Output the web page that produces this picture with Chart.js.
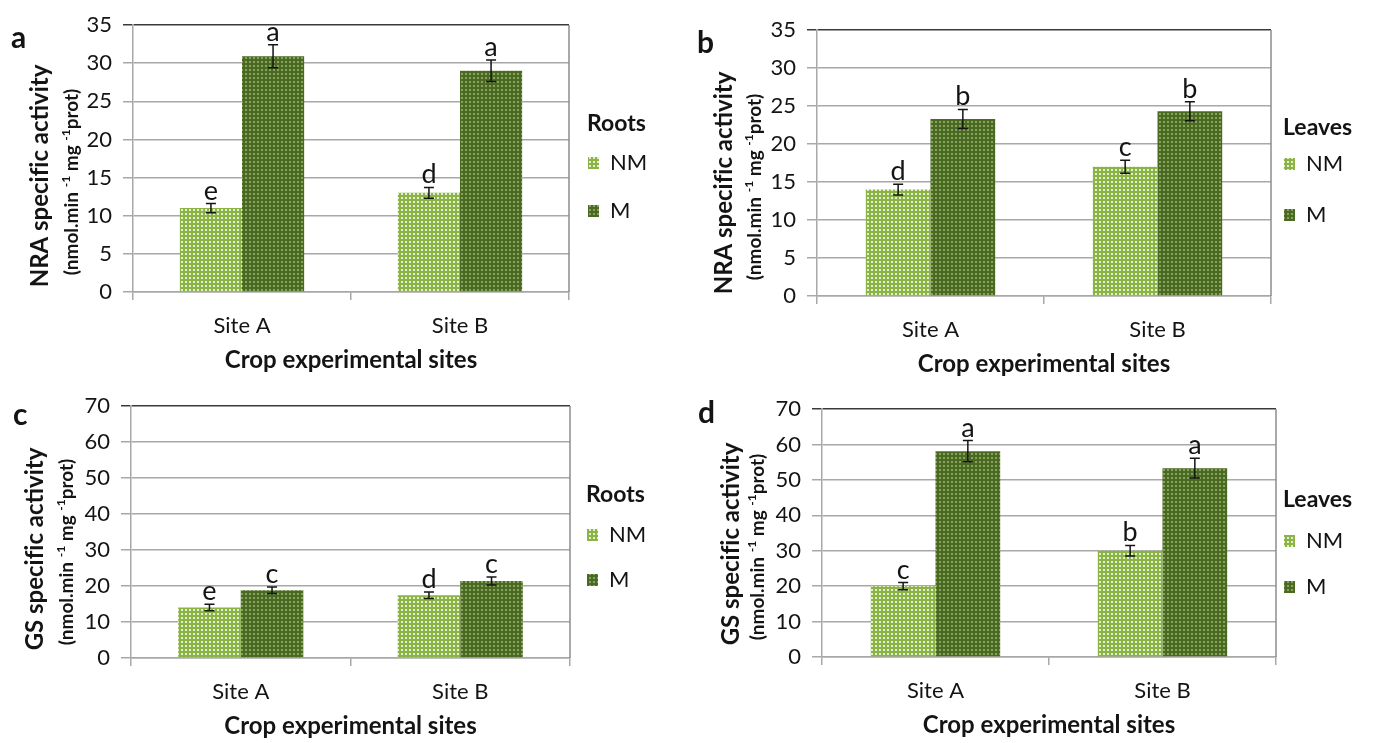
<!DOCTYPE html>
<html>
<head>
<meta charset="utf-8">
<script src="https://cdn.jsdelivr.net/npm/chart.js@4.4.0/dist/chart.umd.min.js"></script>
<style>
  body { margin: 0; background: #fff; width: 1373px; height: 743px; position: relative; overflow: hidden; }
  canvas { position: absolute; }
</style>
</head>
<body>
<canvas id="chartA" width="686" height="380" style="left:0;top:0"></canvas>
<canvas id="chartB" width="687" height="380" style="left:686px;top:0"></canvas>
<canvas id="chartC" width="686" height="363" style="left:0;top:380px"></canvas>
<canvas id="chartD" width="687" height="363" style="left:686px;top:380px"></canvas>
<script>
const sites = ["Site A", "Site B"];
const seriesNames = ["NM", "M"];

// a - NRA, roots
const nraRootNM = [11.0, 13.0];
const nraRootM = [30.9, 29.0];
const nraRootErrNM = [0.6, 0.7];
const nraRootErrM = [1.5, 1.4];
const nraRootLetNM = ["e", "d"];
const nraRootLetM = ["a", "a"];

// b - NRA, leaves
const nraLeafNM = [14.0, 17.0];
const nraLeafM = [23.3, 24.3];
const nraLeafErrNM = [0.7, 0.85];
const nraLeafErrM = [1.25, 1.25];
const nraLeafLetNM = ["d", "c"];
const nraLeafLetM = ["b", "b"];

// c - GS, roots
const gsRootNM = [14.0, 17.4];
const gsRootM = [18.8, 21.4];
const gsRootErrNM = [0.9, 0.9];
const gsRootErrM = [0.9, 1.1];
const gsRootLetNM = ["e", "d"];
const gsRootLetM = ["c", "c"];

// d - GS, leaves
const gsLeafNM = [20.0, 30.0];
const gsLeafM = [58.1, 53.3];
const gsLeafErrNM = [1.0, 1.5];
const gsLeafErrM = [3.0, 2.8];
const gsLeafLetNM = ["c", "b"];
const gsLeafLetM = ["a", "a"];

const nraMax = 35, nraStep = 5;
const gsMax = 70, gsStep = 10;

const TEXT = "#141414";
const GRID = "#a8a8a8";
const NOLIG = "\u200C"; // keeps "f" and "i" apart (Lato has an fi ligature)

function makePattern(base, dot) {
  const c = document.createElement("canvas");
  c.width = 4; c.height = 4;
  const g = c.getContext("2d");
  g.fillStyle = base; g.fillRect(0, 0, 4, 4);
  g.fillStyle = dot; g.fillRect(1, 1, 2, 2);
  return c;
}

// panel layout (page coords)
const panels = [
  { id: "chartA", x0: 0, y0: 0, left: 133, right: 569, top: 25, bottom: 292, max: nraMax, step: nraStep,
    tag: "a", tagX: 11, tagY: 48, yTitle: "NRA specif" + NOLIG + "ic activity", t1x: 40, t1y: 176, t2x: 72, t2y: 182,
    legTitle: "Roots", legX: 587, legY: [124, 163, 211],
    nm: nraRootNM, m: nraRootM, errNM: nraRootErrNM, errM: nraRootErrM, letNM: nraRootLetNM, letM: nraRootLetM },
  { id: "chartB", x0: 686, y0: 0, left: 817, right: 1271, top: 30, bottom: 296, max: nraMax, step: nraStep,
    tag: "b", tagX: 697, tagY: 53, yTitle: "NRA specif" + NOLIG + "ic activity", t1x: 724, t1y: 183, t2x: 755, t2y: 187,
    legTitle: "Leaves", legX: 1283, legY: [128, 164, 215],
    nm: nraLeafNM, m: nraLeafM, errNM: nraLeafErrNM, errM: nraLeafErrM, letNM: nraLeafLetNM, letM: nraLeafLetM },
  { id: "chartC", x0: 0, y0: 380, left: 131, right: 570, top: 406, bottom: 658, max: gsMax, step: gsStep,
    tag: "c", tagX: 13, tagY: 425, yTitle: "GS specif" + NOLIG + "ic activity", t1x: 35, t1y: 549, t2x: 67, t2y: 552,
    legTitle: "Roots", legX: 586, legY: [495, 535, 580],
    nm: gsRootNM, m: gsRootM, errNM: gsRootErrNM, errM: gsRootErrM, letNM: gsRootLetNM, letM: gsRootLetM },
  { id: "chartD", x0: 686, y0: 380, left: 822, right: 1276, top: 409, bottom: 657, max: gsMax, step: gsStep,
    tag: "d", tagX: 698, tagY: 423, yTitle: "GS specif" + NOLIG + "ic activity", t1x: 731, t1y: 544, t2x: 758, t2y: 547,
    legTitle: "Leaves", legX: 1283, legY: [500, 541, 587],
    nm: gsLeafNM, m: gsLeafM, errNM: gsLeafErrNM, errM: gsLeafErrM, letNM: gsLeafLetNM, letM: gsLeafLetM }
];

function drawUnitLine(ctx, cx, cy) {
  // "(nmol.min -1 mg -1 prot)" rotated, with superscripts
  const parts = [["(nmol.min ", false], ["-1", true], [" mg ", false], ["-1", true], ["prot)", false]];
  const main = "bold 19px Lato", sup = "bold 12px Lato";
  let total = 0;
  parts.forEach(([t, s]) => { ctx.font = s ? sup : main; total += ctx.measureText(t).width; });
  ctx.save();
  ctx.translate(cx, cy);
  ctx.rotate(-Math.PI / 2);
  ctx.textAlign = "left";
  ctx.textBaseline = "middle";
  let x = -total / 2;
  parts.forEach(([t, s]) => {
    ctx.font = s ? sup : main;
    ctx.fillText(t, x, s ? -6 : 0);
    x += ctx.measureText(t).width;
  });
  ctx.restore();
}

function decor(p, pats) {
  return {
    id: "decor",
    afterDatasetsDraw(chart) {
      const ctx = chart.ctx, area = chart.chartArea, y = chart.scales.y;
      ctx.save();
      ctx.strokeStyle = "#8c8c8c"; ctx.lineWidth = 1.5;
      ctx.beginPath(); ctx.moveTo(area.right, area.top); ctx.lineTo(area.right, area.bottom); ctx.stroke();

      chart.data.datasets.forEach((ds, di) => {
        chart.getDatasetMeta(di).data.forEach((bar, i) => {
          const v = ds.data[i], e = ds.err[i];
          const yt = y.getPixelForValue(v + e), yb = y.getPixelForValue(v - e);
          ctx.strokeStyle = TEXT; ctx.lineWidth = 1.5;
          ctx.beginPath();
          ctx.moveTo(bar.x, yt); ctx.lineTo(bar.x, yb);
          ctx.moveTo(bar.x - 5, yt); ctx.lineTo(bar.x + 5, yt);
          ctx.moveTo(bar.x - 5, yb); ctx.lineTo(bar.x + 5, yb);
          ctx.stroke();
          ctx.fillStyle = TEXT;
          ctx.font = "27px Lato";
          ctx.textAlign = "center";
          ctx.textBaseline = "alphabetic";
          ctx.fillText(ds.letters[i], bar.x, yt - 4);
        });
      });
      ctx.restore();
    },
    afterDraw(chart) {
      const ctx = chart.ctx, area = chart.chartArea;
      const ox = p.x0, oy = p.y0;
      ctx.save();
      ctx.fillStyle = TEXT;
      // panel tag
      ctx.font = "bold 30px Lato";
      ctx.textAlign = "left"; ctx.textBaseline = "alphabetic";
      ctx.fillText(p.tag, p.tagX - ox, p.tagY - oy);
      // x title
      ctx.font = "bold 24px Lato";
      ctx.textAlign = "center"; ctx.textBaseline = "middle";
      ctx.fillText("Crop experimental sites", (area.left + area.right) / 2, area.bottom + 68);
      // y title
      ctx.save();
      ctx.translate(p.t1x - ox, p.t1y - oy);
      ctx.rotate(-Math.PI / 2);
      ctx.font = "bold 24px Lato";
      ctx.fillText(p.yTitle, 0, 0);
      ctx.restore();
      drawUnitLine(ctx, p.t2x - ox, p.t2y - oy);
      // legend
      ctx.textAlign = "left"; ctx.textBaseline = "middle";
      ctx.font = "bold 23px Lato";
      ctx.fillText(p.legTitle, p.legX - ox, p.legY[0] - oy);
      ctx.font = "22px Lato";
      seriesNames.forEach((name, i) => {
        const cy = p.legY[i + 1] - oy;
        ctx.fillStyle = ctx.createPattern(pats[i], "repeat");
        ctx.fillRect(p.legX - ox + 1, cy - 6, 11, 12);
        ctx.fillStyle = TEXT;
        ctx.fillText(name, p.legX - ox + 23, cy);
      });
      ctx.restore();
    }
  };
}

function buildChart(p) {
  const canvas = document.getElementById(p.id);
  const ctx = canvas.getContext("2d");
  const patNM = makePattern("#8cb445", "#e2eed2");
  const patM = makePattern("#4a6a22", "#88a262");
  const fillNM = ctx.createPattern(patNM, "repeat");
  const fillM = ctx.createPattern(patM, "repeat");

  new Chart(canvas, {
    type: "bar",
    data: {
      labels: sites,
      datasets: [
        { label: seriesNames[0], data: p.nm, err: p.errNM, letters: p.letNM, backgroundColor: fillNM },
        { label: seriesNames[1], data: p.m, err: p.errM, letters: p.letM, backgroundColor: fillM }
      ]
    },
    options: {
      responsive: false,
      animation: false,
      events: [],
      layout: { padding: { top: p.top - p.y0, right: p.x0 + canvas.width - p.right, left: 0, bottom: 0 } },
      datasets: { bar: { categoryPercentage: 0.57, barPercentage: 1.0 } },
      plugins: { legend: { display: false }, tooltip: { enabled: false } },
      scales: {
        x: {
          grid: { drawOnChartArea: false, offset: true, tickLength: 8, color: GRID, lineWidth: 1.5 },
          border: { color: GRID, width: 1.5 },
          ticks: { font: { family: "Lato", size: 22 }, color: TEXT, padding: 13 },
          afterFit: s => { s.height = p.y0 + canvas.height - p.bottom; }
        },
        y: {
          min: 0, max: p.max,
          grid: { color: c => (c.tick && c.tick.value === p.max ? "#3a3a3a" : GRID), lineWidth: 1.5, tickLength: 10 },
          border: { color: GRID, width: 1.5 },
          ticks: { stepSize: p.step, font: { family: "Lato", size: 22 }, color: TEXT, padding: 11 },
          afterFit: s => { s.width = p.left - p.x0; }
        }
      }
    },
    plugins: [decor(p, [patNM, patM])]
  });
}

Promise.all([document.fonts.load("21px Lato"), document.fonts.load("bold 21px Lato")])
  .catch(() => {})
  .then(() => panels.forEach(buildChart));
</script>
</body>
</html>
